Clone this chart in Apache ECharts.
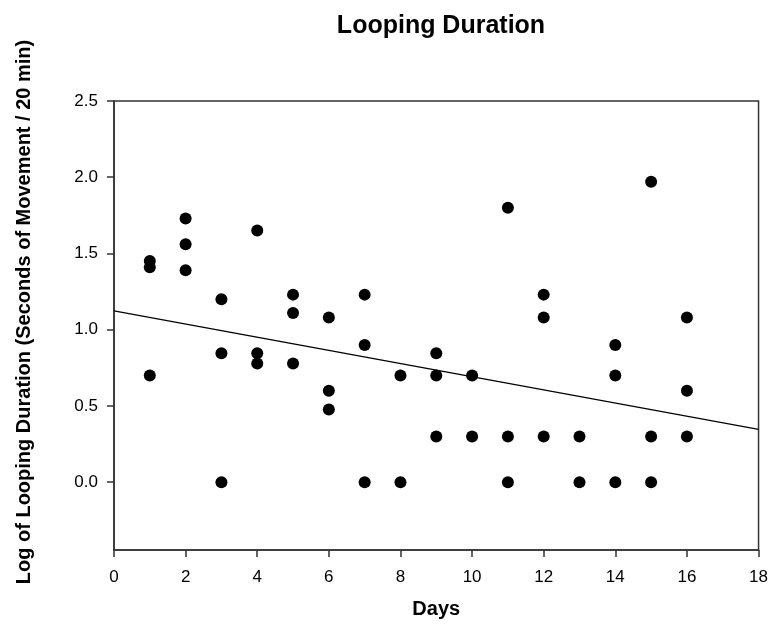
<!DOCTYPE html>
<html>
<head>
<meta charset="utf-8">
<script src="https://cdn.jsdelivr.net/npm/echarts@6/dist/echarts.min.js"></script>
<style>html,body{margin:0;padding:0;background:#fff;}#c{width:771px;height:626px;}</style>
</head>
<body>
<div id="c"></div>
<script>
const titleText = "Looping Duration";
const xAxisTitle = "Days";
const yAxisTitle = "Log of Looping Duration (Seconds of Movement / 20 min)";
const xTicks = [0, 2, 4, 6, 8, 10, 12, 14, 16, 18];
const yTicks = [0.0, 0.5, 1.0, 1.5, 2.0, 2.5];
const days = [1,1,1, 2,2,2, 3,3,3, 4,4,4, 5,5,5, 6,6,6, 7,7,7, 8,8, 9,9,9, 10,10, 11,11,11, 12,12,12, 13,13, 14,14,14, 15,15,15, 16,16,16];
const logDuration = [1.45,1.41,0.70, 1.73,1.56,1.39, 1.20,0.845,0.0, 1.65,0.845,0.778, 1.23,1.11,0.778, 1.08,0.60,0.477, 1.23,0.90,0.0, 0.70,0.0, 0.845,0.70,0.30, 0.70,0.30, 1.80,0.30,0.0, 1.23,1.08,0.30, 0.30,0.0, 0.90,0.70,0.0, 1.97,0.30,0.0, 1.08,0.60,0.30];
const fitX = [0, 18];
const fitY = [1.124, 0.346];

const font = "'Liberation Sans', Arial, sans-serif";
const chart = echarts.init(document.getElementById('c'), null, {renderer: 'canvas'});
chart.setOption({
  animation: false,
  backgroundColor: '#fff',
  title: {
    text: titleText, left: 436, top: 9, textAlign: 'center',
    textStyle: {fontFamily: font, fontWeight: 'bold', fontSize: 25, color: '#000'}
  },
  grid: {left: 114, right: 12, top: 101, bottom: 76, show: true, borderColor: '#333', borderWidth: 1.5},
  xAxis: {
    type: 'value', min: 0, max: 18, interval: 2,
    name: xAxisTitle, nameLocation: 'middle', nameGap: 49,
    nameTextStyle: {fontFamily: font, fontWeight: 'bold', fontSize: 20, color: '#000'},
    axisLine: {show: true, onZero: false, lineStyle: {color: '#333', width: 1.5}},
    axisTick: {show: true, length: 7, lineStyle: {color: '#333', width: 1.5}},
    axisLabel: {fontFamily: font, fontSize: 17, color: '#000', margin: 19,
      formatter: v => xTicks.includes(v) ? String(v) : ''},
    splitLine: {show: false}
  },
  yAxis: {
    type: 'value', min: -0.445, max: 2.5,
    axisLine: {show: true, onZero: false, lineStyle: {color: '#333', width: 1.5}},
    axisTick: {show: true, length: 7, lineStyle: {color: '#333', width: 1.5},
      customValues: yTicks},
    axisLabel: {fontFamily: font, fontSize: 17, color: '#000', margin: 16,
      customValues: yTicks, formatter: v => v.toFixed(1)},
    splitLine: {show: false}
  },
  graphic: [{
    type: 'text', x: 24, y: 312, rotation: Math.PI / 2,
    style: {text: yAxisTitle, fontFamily: font, fontWeight: 'bold', fontSize: 20, fill: '#000',
      textAlign: 'center', textVerticalAlign: 'middle'}
  }],
  series: [
    {
      type: 'scatter', data: days.map((d, i) => [d, logDuration[i]]),
      symbol: 'circle', symbolSize: 12, itemStyle: {color: '#000', opacity: 1}
    },
    {
      type: 'line', data: fitX.map((x, i) => [x, fitY[i]]),
      symbol: 'none', lineStyle: {color: '#000', width: 1.3}
    }
  ]
});
</script>
</body>
</html>
